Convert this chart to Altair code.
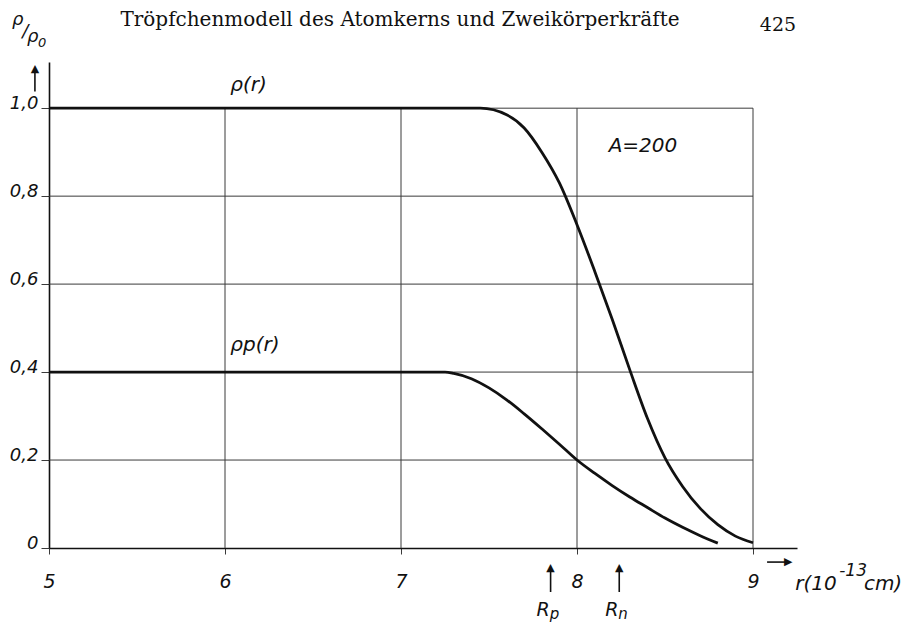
import altair as alt
import pandas as pd

# ---- data ----
r_total = [5.0, 7.0, 7.45, 7.6, 7.7, 7.8, 7.9, 8.0, 8.1, 8.2, 8.3, 8.4, 8.5, 8.6, 8.7, 8.8, 8.9, 9.0]
rho_total = [1.0, 1.0, 1.0, 0.985, 0.955, 0.90, 0.83, 0.735, 0.63, 0.52, 0.405, 0.295, 0.205,
             0.14, 0.09, 0.053, 0.027, 0.012]

r_proton = [5.0, 7.0, 7.25, 7.3, 7.4, 7.5, 7.6, 7.7, 7.8, 7.9, 8.0, 8.1, 8.2, 8.3, 8.4, 8.5, 8.6, 8.7, 8.8]
rho_proton = [0.4, 0.4, 0.4, 0.397, 0.385, 0.364, 0.337, 0.305, 0.271, 0.236, 0.20, 0.17, 0.142,
              0.116, 0.092, 0.068, 0.047, 0.028, 0.011]

x_ticks = [5, 6, 7, 8, 9]
y_ticks = [0, 0.2, 0.4, 0.6, 0.8, 1.0]
x_grid = [6, 7, 8, 9]
y_grid = [0.2, 0.4, 0.6, 0.8, 1.0]
radius_marks = [7.85, 8.24]          # R_p, R_n
radius_names = ["R", "R"]
radius_subs = ["p", "n"]

X_DOMAIN = [5, 9.25]
Y_DOMAIN = [0, 1.105]
W, H = 748, 486

xs = alt.Scale(domain=X_DOMAIN, nice=False, zero=False)
ys = alt.Scale(domain=Y_DOMAIN, nice=False, zero=False)

HAND = "DejaVu Sans"
INK = "#111111"
GRID = "#3a3a3a"

curves = pd.DataFrame(
    {"r": r_total + r_proton,
     "rho": rho_total + rho_proton,
     "s": ["rho"] * len(r_total) + ["rho_p"] * len(r_proton)}
)

x_axis = alt.Axis(values=x_ticks, format="d", title=None, grid=False,
                  domainColor=INK, domainWidth=1.6, tickColor=GRID, tickSize=6,
                  labelFont=HAND, labelFontStyle="italic", labelFontSize=19,
                  labelColor=INK, labelPadding=18, labelFlush=False)
y_axis = alt.Axis(values=y_ticks, title=None, grid=False,
                  labelExpr="datum.value == 0 ? '0' : replace(format(datum.value, '.1f'), '.', ',')",
                  domainColor=INK, domainWidth=1.6, tickColor=GRID, tickSize=8,
                  labelFont=HAND, labelFontStyle="italic", labelFontSize=18,
                  labelColor=INK, labelPadding=3, labelBaseline="alphabetic",
                  labelFlush=False)


def X(f):
    return alt.X(f, type="quantitative", scale=xs, axis=x_axis)


def Y(f):
    return alt.Y(f, type="quantitative", scale=ys, axis=y_axis)


lines = alt.Chart(curves).mark_line(color=INK, strokeWidth=2.8, interpolate="monotone").encode(
    x=X("r"), y=Y("rho"), detail="s:N",
)

hgrid_df = pd.DataFrame({"y": y_grid, "x0": [x_ticks[0]] * len(y_grid), "x1": [x_ticks[-1]] * len(y_grid)})
hgrid = alt.Chart(hgrid_df).mark_rule(color=GRID, strokeWidth=1).encode(
    x=X("x0"), x2="x1:Q", y=Y("y"),
)
vgrid_df = pd.DataFrame({"x": x_grid, "y0": [y_ticks[0]] * len(x_grid), "y1": [y_ticks[-1]] * len(x_grid)})
vgrid = alt.Chart(vgrid_df).mark_rule(color=GRID, strokeWidth=1).encode(
    x=X("x"), y=Y("y0"), y2="y1:Q",
)


def txt(t, x, y, size=20, font=HAND, style="italic", align="left", baseline="alphabetic"):
    return alt.Chart(pd.DataFrame({"x": [x], "y": [y], "t": [t]})).mark_text(
        font=font, fontStyle=style, fontSize=size, align=align, baseline=baseline, color=INK
    ).encode(x=X("x"), y=Y("y"), text="t:N")


def arrow(x1, y1, x2, y2, glyph):
    seg = alt.Chart(pd.DataFrame({"x": [x1], "y": [y1], "x2": [x2], "y2": [y2]})).mark_rule(
        color=INK, strokeWidth=1.6).encode(x=X("x"), x2="x2:Q", y=Y("y"), y2="y2:Q")
    head = alt.Chart(pd.DataFrame({"x": [x2], "y": [y2], "t": [glyph]})).mark_text(
        font="DejaVu Sans", fontSize=11, align="center", baseline="middle", color=INK).encode(
        x=X("x"), y=Y("y"), text="t:N")
    return [seg, head]


layers = [hgrid, vgrid, lines]

# header of the page
layers.append(txt("Tröpfchenmodell des Atomkerns und Zweikörperkräfte", 6.994, 1.186,
                  size=20, font="DejaVu Serif", style="normal", align="center"))
layers.append(txt("425", 9.142, 1.175, size=19, font="DejaVu Serif", style="normal", align="center"))

# y-axis quantity  rho / rho_0
layers.append(txt("ρ", 4.79, 1.188, size=18))
layers.append(txt("/", 4.848, 1.162, size=18))
layers.append(txt("ρ", 4.875, 1.150, size=18))
layers.append(txt("0", 4.938, 1.138, size=13))
layers += arrow(4.92, 1.038, 4.92, 1.088, "▲")

# curve labels
layers.append(txt("ρ(r)", 6.03, 1.040, size=20))
layers.append(txt("ρp(r)", 6.03, 0.447, size=20))
layers.append(txt("A=200", 8.18, 0.900, size=20))

# x quantity  r (10^-13 cm)
layers += arrow(9.08, -0.032, 9.2, -0.032, "▶")
layers.append(txt("r(10", 9.24, -0.095, size=20))
layers.append(txt("-13", 9.49, -0.064, size=17))
layers.append(txt("cm)", 9.63, -0.095, size=20))

# R_p and R_n markers
for xr, nm, sb in zip(radius_marks, radius_names, radius_subs):
    layers += arrow(xr, -0.10, xr, -0.045, "▲")
    layers.append(txt(nm, xr - 0.005, -0.154, size=19, align="right"))
    layers.append(txt(sb, xr - 0.005, -0.161, size=15, align="left"))

chart = alt.layer(*layers).properties(
    width=W, height=H,
    padding={"left": 41, "top": 54, "right": 112, "bottom": 76},
    autosize=alt.AutoSizeParams(type="none"),
    background="white",
).configure_view(stroke=None)

chart.save("out.html", embed_options={"renderer": "svg", "actions": False})
